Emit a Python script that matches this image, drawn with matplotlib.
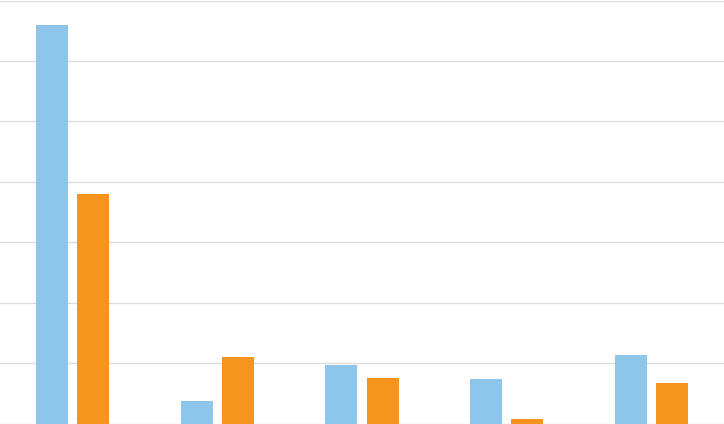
import matplotlib
matplotlib.use("Agg")
import matplotlib.pyplot as plt
import numpy as np

categories = ["A", "B", "C", "D", "E"]
series_blue = [6.59, 0.38, 0.96, 0.73, 1.13]
series_orange = [3.79, 1.10, 0.76, 0.07, 0.67]

fig = plt.figure(figsize=(7.24, 4.24), dpi=100)
ax = fig.add_axes([0, 0.5 / 424, 1, 423 / 424])

x = np.arange(len(categories))
w = 0.221
off = 0.1416
ax.bar(x - off, series_blue, width=w, color="#8EC5EA", zorder=3)
ax.bar(x + off, series_orange, width=w, color="#F7941D", zorder=3)

ax.set_xlim(-0.5, len(categories) - 0.5)
ax.set_ylim(0, 7)
ax.set_yticks(np.arange(0, 8, 1))
ax.yaxis.grid(True, color="#DCDCDC", linewidth=1.0, zorder=0)
ax.set_xticks([])
ax.tick_params(left=False, labelleft=False)
for s in ax.spines.values():
    s.set_visible(False)

fig.savefig("out.png", dpi=100)
